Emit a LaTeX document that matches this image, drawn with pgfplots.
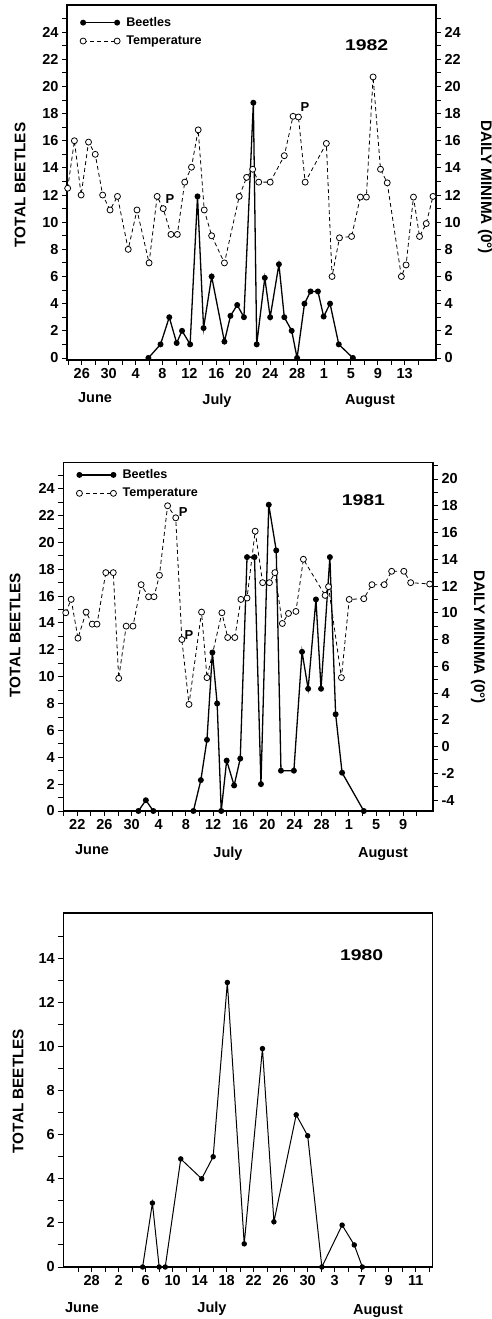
\documentclass[border=0pt]{standalone}
\usepackage{pgfplots}
\pgfplotsset{compat=1.18}
\usepackage{fontspec}
\setmainfont{Liberation Sans}
\newcommand{\fs}[1]{\fontsize{#1}{#1}\selectfont\bfseries}

\pgfplotsset{
  base/.style={
    scale only axis,
    axis line style={line width=1.6pt},
    tick style={line width=0.9pt, black},
    tick align=outside,
    major tick length=5pt,
    minor tick length=5pt,
    tick label style={font=\fs{14.5}},
    /pgf/number format/assume math mode=true,
    xtick pos=bottom,
    ytick pos=left,
    clip=false,
  },
  beet/.style={black, line width=1.3pt, mark=*, mark size=2.3pt, mark options={solid}},
  temp/.style={black, line width=0.8pt, dash pattern=on 4pt off 3pt, mark=*, mark size=3pt, mark options={solid, fill=white, draw=black, line width=0.8pt}},
  leg/.style={
    legend style={at={(axis description cs:0.035,#1)}, anchor=north west, draw=none, fill=none, font=\fs{12.6}, row sep=5pt, inner sep=0pt, nodes={inner sep=1.5pt}},
    legend cell align=left,
    legend image code/.code={\draw[##1] plot coordinates {(0pt,0pt) (34pt,0pt)}; \path (41pt,0pt);},
  },
}

\begin{document}
\begin{tikzpicture}
\useasboundingbox (0pt,0pt) rectangle (491pt,1319pt);

% ---------------- 1982 ----------------
\begin{axis}[base, leg=0.97, at={(67pt,959pt)}, anchor=south west, width=369pt, height=355pt,
  xmin=23.8, xmax=78.65, ymin=-0.15, ymax=26,
  xtick={26,30,...,74}, xticklabels={26,30,4,8,12,16,20,24,28,1,5,9,13},
  minor xtick={24,28,...,76},
  ytick={0,2,...,24}, minor ytick={1,3,...,25}]
\addplot[beet] table {
35.9 0
37.7 1
39.0 3
40.1 1.1
40.9 2
42.1 1
43.2 11.9
44.1 2.2
45.3 6
47.2 1.2
48.1 3.1
49.1 3.9
50.1 3
51.5 18.8
52.0 1
53.2 5.9
54.0 3
55.3 6.9
56.1 3
57.2 2
58.0 0
59.1 4
60.0 4.9
61.1 4.9
61.95 3.05
62.9 4
64.2 1
66.3 0
};
\addlegendentry{Beetles}
\addlegendimage{temp}
\addlegendentry{Temperature}
\end{axis}
\begin{axis}[base, at={(67pt,959pt)}, anchor=south west, width=369pt, height=355pt,
  xmin=23.8, xmax=78.65, ymin=-0.15, ymax=26,
  axis x line=none, axis y line*=right, ytick pos=right,
  ytick={0,2,...,24}, minor ytick={1,3,...,25}]
\addplot[temp] table {
23.9 12.5
24.9 16.0
25.9 12.0
27.0 15.9
28.0 15.0
29.1 12.0
30.2 10.9
31.3 11.9
32.9 8.0
34.2 10.9
36.0 7.0
37.2 11.9
38.1 11.0
39.25 9.1
40.2 9.1
41.3 12.95
42.3 14.05
43.3 16.8
44.2 10.9
45.3 9.0
47.2 7.0
49.4 11.9
50.5 13.3
51.4 13.9
52.3 12.95
54.0 12.95
56.1 14.9
57.4 17.8
58.2 17.75
59.2 12.95
62.35 15.8
63.2 6.0
64.3 8.85
66.1 8.95
67.4 11.85
68.3 11.85
69.3 20.7
70.4 13.9
71.4 12.9
73.5 6.0
74.2 6.85
75.3 11.85
76.2 8.95
77.2 9.9
78.2 11.9
};
\end{axis}
\node[rotate=90, font=\fs{15.3}] at (20pt,1134pt) {TOTAL BEETLES};
\node[rotate=-90, font=\fs{15.3}] at (485pt,1132pt) {DAILY MINIMA (0°)};
\node[anchor=base, font=\fs{14.5}] at (95pt,916pt) {June};
\node[anchor=base, font=\fs{14.5}] at (217pt,914pt) {July};
\node[anchor=base, font=\fs{14.5}] at (370pt,914pt) {August};
\node[font=\fs{15.5}, xscale=1.25] at (366.7pt,1274pt) {1982};
\node[font=\fs{13}] at (170pt,1120pt) {P};
\node[font=\fs{13}] at (305pt,1212pt) {P};

% ---------------- 1981 ----------------
\begin{axis}[base, leg=0.985, at={(63.3pt,508pt)}, anchor=south west, width=369.7pt, height=348.3pt,
  xmin=19.94, xmax=74.39, ymin=0, ymax=25.93,
  xtick={22,26,...,70}, xticklabels={22,26,30,4,8,12,16,20,24,28,1,5,9},
  minor xtick={20,24,...,72},
  ytick={0,2,...,24}, minor ytick={1,3,...,25}]
\addplot[beet] table {
31.0 0
32.1 0.8
33.2 0
39.1 0
40.2 2.3
41.1 5.3
41.9 11.8
42.6 8.0
43.2 0
44.0 3.75
45.1 1.9
46.0 3.9
47.0 18.9
48.1 18.9
49.05 2.0
50.2 22.8
51.3 19.4
52.0 3.0
53.9 3.0
55.1 11.85
56.0 9.1
57.15 15.75
57.9 9.1
59.2 18.9
60.05 7.2
61.0 2.85
64.2 0
};
\addlegendentry{Beetles}
\addlegendimage{temp}
\addlegendentry{Temperature}
\end{axis}
\begin{axis}[base, at={(63.3pt,508pt)}, anchor=south west, width=369.7pt, height=348.3pt,
  xmin=19.94, xmax=74.39, ymin=-4.82, ymax=21.22,
  axis x line=none, axis y line*=right, ytick pos=right,
  ytick={-4,-2,...,20}, minor ytick={-3,-1,...,21}]
\addplot[temp] table {
20.3 10.0
21.1 11.0
22.1 8.1
23.3 10.05
24.2 9.15
24.9 9.15
26.2 13.0
27.3 13.0
28.1 5.1
29.2 9.0
30.2 9.0
31.4 12.1
32.5 11.2
33.3 11.2
34.1 12.8
35.3 18.0
36.5 17.1
37.4 8.0
38.45 3.15
40.3 10.05
41.1 5.15
43.3 10.0
44.15 8.15
45.2 8.15
46.1 11.0
47.0 11.1
48.2 16.1
49.3 12.25
50.3 12.25
51.1 13.0
52.2 9.2
53.1 9.95
54.2 10.1
55.3 14.0
58.5 11.3
59.0 11.95
60.9 5.15
62.05 11.0
64.2 11.05
65.4 12.1
67.2 12.1
68.3 13.1
70.1 13.1
71.1 12.25
73.9 12.15
};
\end{axis}
\node[rotate=90, font=\fs{15.3}] at (15pt,684pt) {TOTAL BEETLES};
\node[rotate=-90, font=\fs{15.3}] at (478pt,682pt) {DAILY MINIMA (0°)};
\node[anchor=base, font=\fs{14.5}] at (92pt,464pt) {June};
\node[anchor=base, font=\fs{14.5}] at (228pt,461pt) {July};
\node[anchor=base, font=\fs{14.5}] at (383pt,461pt) {August};
\node[font=\fs{15.5}, xscale=1.25] at (363.3pt,819pt) {1981};
\node[font=\fs{13}] at (183.3pt,807.3pt) {P};
\node[font=\fs{13}] at (189pt,684pt) {P};

% ---------------- 1980 ----------------
\begin{axis}[base, at={(63.3pt,52pt)}, anchor=south west, width=369pt, height=354pt,
  xmin=23.8, xmax=78.46, ymin=0, ymax=16.05,
  xtick={28,32,...,76}, xticklabels={28,2,6,10,14,18,22,26,30,3,7,9,11},
  minor xtick={26,30,...,78},
  ytick={0,2,...,14}, minor ytick={1,3,...,15}]
\addplot[beet, line width=1pt, mark size=2.2pt] table {
35.55 0
37.0 2.9
38.0 0
38.9 0
41.2 4.9
44.3 4.0
46.0 5.0
48.1 12.9
50.6 1.05
53.3 9.9
55.0 2.05
58.3 6.9
60.0 5.95
62.1 0
65.1 1.9
66.9 1.0
68.1 0
};
\end{axis}
\node[rotate=90, font=\fs{15.3}] at (18pt,228pt) {TOTAL BEETLES};
\node[anchor=base, font=\fs{14.5}] at (82pt,6pt) {June};
\node[anchor=base, font=\fs{14.5}] at (212pt,6pt) {July};
\node[anchor=base, font=\fs{14.5}] at (378pt,5pt) {August};
\node[font=\fs{15.5}, xscale=1.25] at (361.7pt,364pt) {1980};
\end{tikzpicture}
\end{document}
